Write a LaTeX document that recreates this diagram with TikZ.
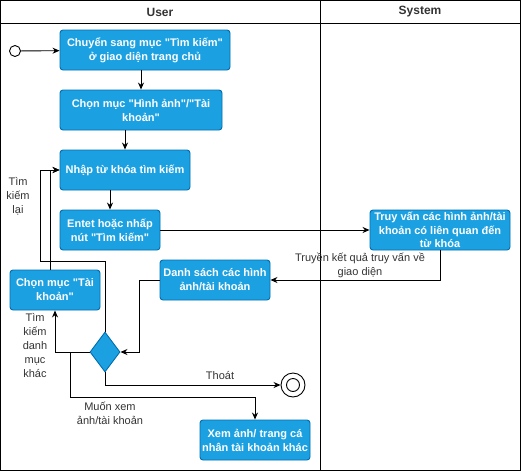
\documentclass[tikz,border=0pt]{standalone}
\usepackage{fontspec}
\setmainfont{Liberation Sans}[Ligatures=TeXOff]
\usetikzlibrary{arrows.meta,shapes.geometric}
\definecolor{hopxanh}{HTML}{1BA1E2}
\definecolor{vienxanh}{HTML}{006EAF}
\definecolor{chuxam}{HTML}{333333}
\tikzset{
  hop/.style={draw=vienxanh, fill=hopxanh, rounded corners=3pt, text=white,
    font=\bfseries\fontsize{11}{14}\selectfont, align=center, inner sep=0pt},
  nhan/.style={font=\fontsize{11}{14}\selectfont, text=chuxam, align=center},
  tieude/.style={font=\bfseries\fontsize{12}{14}\selectfont, text=chuxam},
  muiten/.style={-{Stealth[length=7pt,width=6pt]}},
}
\begin{document}
\begin{tikzpicture}[x=1pt, y=-1pt, line width=0.9pt]

    \useasboundingbox (0,0) rectangle (521,471);

    % swimlanes
    \draw (0.5,0.5) rectangle (520,470);
    \draw (0.5,23) -- (520,23);
    \draw (320,0.5) -- (320,470);
    \node[tieude] (user) at (160,12) {User};
    \node[tieude] (system) at (420,12) {System};

    % nodes
    \node[circle, draw, fill=white, minimum size=11pt, inner sep=0pt] (batdau) at (15,51) {};
    \node[hop, minimum width=170pt, minimum height=40pt] (chuyen) at (145,50)
        {Chuyển sang mục "Tìm kiếm"\\ở giao diện trang chủ};
    \node[hop, minimum width=162pt, minimum height=40pt] (chon) at (141,110)
        {Chọn mục "Hình ảnh"/"Tài\\khoản"};
    \node[hop, minimum width=130pt, minimum height=40pt] (nhap) at (125,170)
        {Nhập từ khóa tìm kiếm};
    \node[hop, minimum width=100pt, minimum height=40pt] (entet) at (110,230)
        {Entet hoặc nhấp\\nút "Tìm kiếm"};
    \node[hop, minimum width=140pt, minimum height=40pt,
          font=\bfseries\fontsize{11}{13.5}\selectfont] (truyvan) at (440,230)
        {Truy vấn các hình ảnh/tài\\khoản có liên quan đến\\từ khóa};
    \node[hop, minimum width=110pt, minimum height=40pt] (danhsach) at (215,280)
        {Danh sách các hình\\ảnh/tài khoản};
    \node[hop, minimum width=90pt, minimum height=40pt] (chontk) at (55,290)
        {Chọn mục "Tài\\khoản"};
    \node[diamond, draw=vienxanh, fill=hopxanh, minimum width=30pt, minimum height=40pt,
          inner sep=0pt] (quyetdinh) at (105,352) {};
    \node[circle, draw, minimum size=24pt, inner sep=0pt] (ketthuc) at (293,385) {};
    \node[circle, draw, minimum size=13pt, inner sep=0pt] (ketthuctrong) at (ketthuc) {};
    \node[hop, minimum width=110pt, minimum height=40pt] (xemanh) at (255,440)
        {Xem ảnh/ trang cá\\nhân tài khoản khác};

    % helper points
    \coordinate (gocvong) at (105,261);
    \coordinate (vongtrai) at (40,170);
    \coordinate (nhanh) at (70,352);
    \coordinate (gocxem) at (255,397);

    % connectors
    \draw[muiten] (batdau) -- (chuyen);
    \draw[muiten] (chuyen.south -| chon) -- (chon.north);
    \draw[muiten] (chon.south -| nhap) -- (nhap.north);
    \draw[muiten] (nhap.south -| entet) -- (entet.north);
    \draw[muiten] (entet) -- (truyvan);
    \draw[muiten] (truyvan.south) |- (danhsach.east);
    \draw[muiten] (danhsach.west) -- ++(-20,0) |- (quyetdinh.east);
    \draw[muiten] (quyetdinh.west) -| (chontk.south);
    \draw[muiten] ([xshift=-5pt]chontk.north) |- (nhap.west);
    \draw[muiten] (quyetdinh.north) -- (gocvong) -| (vongtrai) -- (nhap.west);
    \draw[muiten] (quyetdinh.south) |- (ketthuc.west);
    \draw[muiten] (nhanh) |- (gocxem) -- (xemanh.north);

    % labels
    \node[nhan] (timlai) at (18,196) {Tìm\\kiếm\\lại};
    \node[nhan] (timkhac) at (35,345) {Tìm\\kiếm\\danh\\mục\\khác};
    \node[nhan] (truyen) at (360,265) {Truyền kết quả truy vấn về\\giao diện};
    \node[nhan] (thoat) at (220,375) {Thoát};
    \node[nhan] (muonxem) at (110,413) {Muốn xem\\ảnh/tài khoản};

\end{tikzpicture}
\end{document}
